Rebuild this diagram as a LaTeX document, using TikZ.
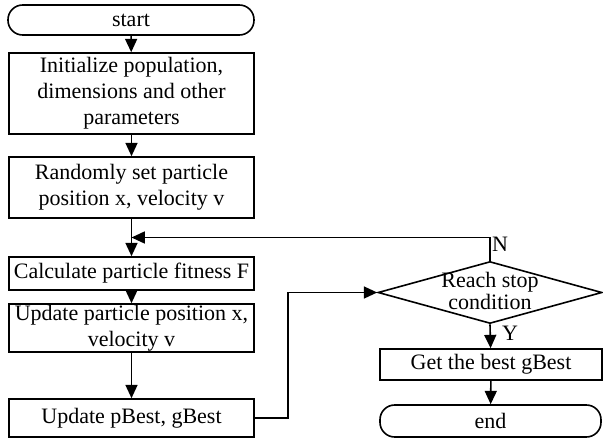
\documentclass[tikz,border=0pt]{standalone}
\usepackage{fontspec}
\setmainfont{Liberation Serif}
\usetikzlibrary{arrows.meta,shapes.geometric,calc}
\begin{document}
\begin{tikzpicture}[x=0.75pt,y=-0.75pt,
  every node/.style={font=\fontsize{16.5}{19.5}\selectfont},
  box/.style={draw, line width=1.2pt, inner sep=0pt, align=center, minimum width=183.75pt},
  term/.style={box, rounded corners=11pt},
  conn/.style={line width=1.2pt, -{Triangle[length=10pt,width=9pt]}}]
\useasboundingbox (0,0) rectangle (603,446);
\node[term, minimum height=22.5pt, minimum width=184.5pt] (start) at (131,20) {start};
\node[box, minimum height=60.75pt] (init) at (131.5,93.5) {Initialize population,\\dimensions and other\\parameters};
\node[box, minimum height=45.75pt] (rand) at (131.5,187.5) {Randomly set particle\\position x, velocity v};
\node[box, minimum height=24.75pt] (calc) at (131.5,273.5) {Calculate particle fitness F};
\node[box, minimum height=36pt] (upd) at (131.5,328) {Update particle position x,\\velocity v};
\node[box, minimum height=28.5pt] (pbest) at (131.5,418) {Update pBest, gBest};
\node[draw, diamond, line width=1.2pt, minimum width=168pt, minimum height=46.5pt, inner sep=0pt] (dia) at (490,292.5) {};
\node[align=center, font=\fontsize{16.5}{17}\selectfont] (diatext) at (490,291) {Reach stop\\condition};
\node[box, minimum height=23.25pt, minimum width=166.5pt] (get) at (491,364.5) {Get the best gBest};
\node[term, minimum height=24pt, minimum width=165.75pt] (end) at (490.5,421) {end};
\node (nlab) at (500,244) {N};
\node (ylab) at (510,333) {Y};
\coordinate (j) at ($(rand.south)!0.5!(calc.north)$);
\draw[conn] (start) -- (init);
\draw[conn] (init) -- (rand);
\draw[conn] (rand) -- (calc);
\draw[conn] (calc) -- (upd);
\draw[conn] (upd) -- (pbest);
\draw[conn] (dia.north) |- (j);
\draw[conn] (pbest.east) -- ++(33,0) |- (dia.west);
\draw[conn] (dia.south) -- (get);
\draw[conn] (get) -- (end);
\end{tikzpicture}
\end{document}
